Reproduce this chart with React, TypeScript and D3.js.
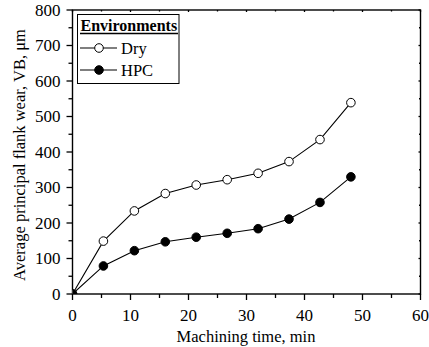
import React from "react";
import * as d3 from "d3";

const times = [0, 5.33, 10.67, 16, 21.33, 26.67, 32, 37.33, 42.67, 48];
const dryWear = [0, 149, 234, 283, 307, 322, 340, 373, 435, 539];
const hpcWear = [0, 79, 122, 147, 160, 171, 184, 211, 258, 330];
const xTicks = [0, 10, 20, 30, 40, 50, 60];
const yTicks = [0, 100, 200, 300, 400, 500, 600, 700, 800];
const seriesNames = ["Dry", "HPC"];
const legendTitle = "Environments";
const xLabel = "Machining time, min";
const yLabel = "Average principal flank wear, VB, \u03bcm";

const W = 429, H = 347;
const L = 72.5, R = 420.5, T = 10, B = 294;
const font = "Liberation Serif";

export default function App() {
  const x = d3.scaleLinear().domain([0, 60]).range([L, R]);
  const y = d3.scaleLinear().domain([0, 800]).range([B, T]);
  const line = d3.line<number>().x((_, i) => x(times[i])).y((d) => y(d));
  const xMinor = d3.range(5, 60, 10);
  const yMinor = d3.range(50, 800, 100);
  const series = [
    { name: seriesNames[0], data: dryWear, fill: "#fff" },
    { name: seriesNames[1], data: hpcWear, fill: "#000" },
  ];
  return (
    <svg width={W} height={H} style={{ position: "absolute", left: 0, top: 0, background: "#fff", fontFamily: font }}>
      <defs>
        <clipPath id="plot">
          <rect x={L} y={T} width={R - L} height={B - T} />
        </clipPath>
      </defs>
      <rect width={W} height={H} fill="#fff" />
      <rect x={L} y={T} width={R - L} height={B - T} fill="none" stroke="#000" strokeWidth={1.4} />
      {xTicks.map((t) => (
        <g key={"xt" + t}>
          <line x1={x(t)} x2={x(t)} y1={B} y2={B + 6} stroke="#000" strokeWidth={1.3} />
          <line x1={x(t)} x2={x(t)} y1={T} y2={T + 2} stroke="#000" strokeWidth={1.3} />
          <text x={x(t)} y={B + 27} textAnchor="middle" fontSize={17} fontFamily={font}>{t}</text>
        </g>
      ))}
      {xMinor.map((t) => (
        <g key={"xm" + t}>
          <line x1={x(t)} x2={x(t)} y1={B} y2={B + 4} stroke="#000" strokeWidth={1.3} />
          <line x1={x(t)} x2={x(t)} y1={T} y2={T + 1.5} stroke="#000" strokeWidth={1.3} />
        </g>
      ))}
      {yTicks.map((t) => (
        <g key={"yt" + t}>
          <line x1={L - 6} x2={L} y1={y(t)} y2={y(t)} stroke="#000" strokeWidth={1.3} />
          <line x1={R - 2} x2={R} y1={y(t)} y2={y(t)} stroke="#000" strokeWidth={1.3} />
          <text x={L - 12} y={y(t) + 5.5} textAnchor="end" fontSize={17} fontFamily={font}>{t}</text>
        </g>
      ))}
      {yMinor.map((t) => (
        <g key={"ym" + t}>
          <line x1={L - 4} x2={L} y1={y(t)} y2={y(t)} stroke="#000" strokeWidth={1.3} />
          <line x1={R - 1.5} x2={R} y1={y(t)} y2={y(t)} stroke="#000" strokeWidth={1.3} />
        </g>
      ))}
      <text x={246} y={342} textAnchor="middle" fontSize={16.5} fontFamily={font}>{xLabel}</text>
      <text transform={`translate(25,155) rotate(-90)`} textAnchor="middle" fontSize={16.5} fontFamily={font}>{yLabel}</text>
      <g clipPath="url(#plot)">
        {series.map((s) => (
          <g key={s.name}>
            <path d={line(s.data) || ""} fill="none" stroke="#000" strokeWidth={1.1} />
            {s.data.map((v, i) => (
              <circle key={i} cx={x(times[i])} cy={y(v)} r={4.3} fill={s.fill} stroke="#000" strokeWidth={1} />
            ))}
          </g>
        ))}
      </g>
      <g>
        <rect x={77.5} y={14.5} width={101.5} height={69} fill="#fff" stroke="#000" strokeWidth={1} />
        <text x={80.5} y={31} fontSize={16} fontWeight="bold" fontFamily={font}>{legendTitle}</text>
        <line x1={80} x2={178} y1={33.5} y2={33.5} stroke="#000" strokeWidth={1.3} />
        {series.map((s, i) => (
          <g key={"lg" + s.name}>
            <line x1={80} x2={117} y1={48 + i * 22} y2={48 + i * 22} stroke="#000" strokeWidth={1.1} />
            <circle cx={99} cy={48 + i * 22} r={4.3} fill={s.fill} stroke="#000" strokeWidth={1} />
            <text x={121} y={54 + i * 22} fontSize={16.5} fontFamily={font}>{s.name}</text>
          </g>
        ))}
      </g>
    </svg>
  );
}
